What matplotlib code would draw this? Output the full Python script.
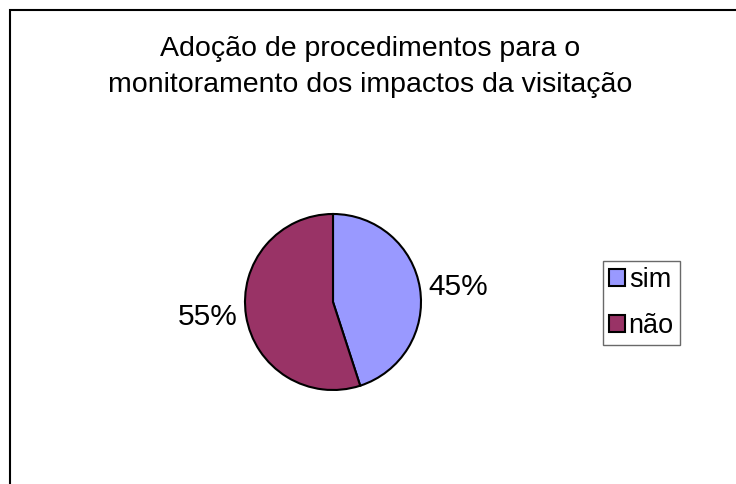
import matplotlib.pyplot as plt
from matplotlib.patches import Rectangle

categories = ['sim', 'não']
values = [45, 55]
colors = ['#9999FF', '#993366']
title = 'Adoção de procedimentos para o\nmonitoramento dos impactos da visitação'

plt.rcParams['font.family'] = ['Liberation Sans', 'DejaVu Sans']

W, H = 736, 484
fig = plt.figure(figsize=(W / 100, H / 100), dpi=100)

# chart area frame (runs off the right and bottom edges)
fig.patches.append(Rectangle((10 / W, -0.1), 1.2, 1.1 - 10 / H, transform=fig.transFigure,
                             fill=False, edgecolor='black', linewidth=1.5))

fig.text(370 / W, 1 - 67 / H, title, ha='center', va='center', fontsize=20.5, linespacing=1.45)

# pie axes: centre (333, 302) px, radius 88 px
cx, cy, r = 333, 302, 88
ax = fig.add_axes([(cx - r) / W, (H - cy - r) / H, 2 * r / W, 2 * r / H])
labels = ['%d%%' % v for v in values]
wedges, texts = ax.pie(values, labels=labels, colors=colors, startangle=90, counterclock=False,
                       radius=1, labeldistance=1.1,
                       wedgeprops=dict(edgecolor='black', linewidth=1.5),
                       textprops=dict(fontsize=21.5))
ax.set_xlim(-1, 1)
ax.set_ylim(-1, 1)
ax.set_aspect('equal')

leg = fig.legend(wedges, categories, loc='center', bbox_to_anchor=(641.5 / W, 1 - 303 / H),
                 fontsize=19.5, frameon=True, fancybox=False, edgecolor='#444444',
                 handlelength=0.6, handleheight=0.6, handletextpad=0.12, labelspacing=0.75,
                 borderpad=0.22, borderaxespad=0)
leg.get_frame().set_linewidth(1)

fig.savefig('out.png', dpi=100)
